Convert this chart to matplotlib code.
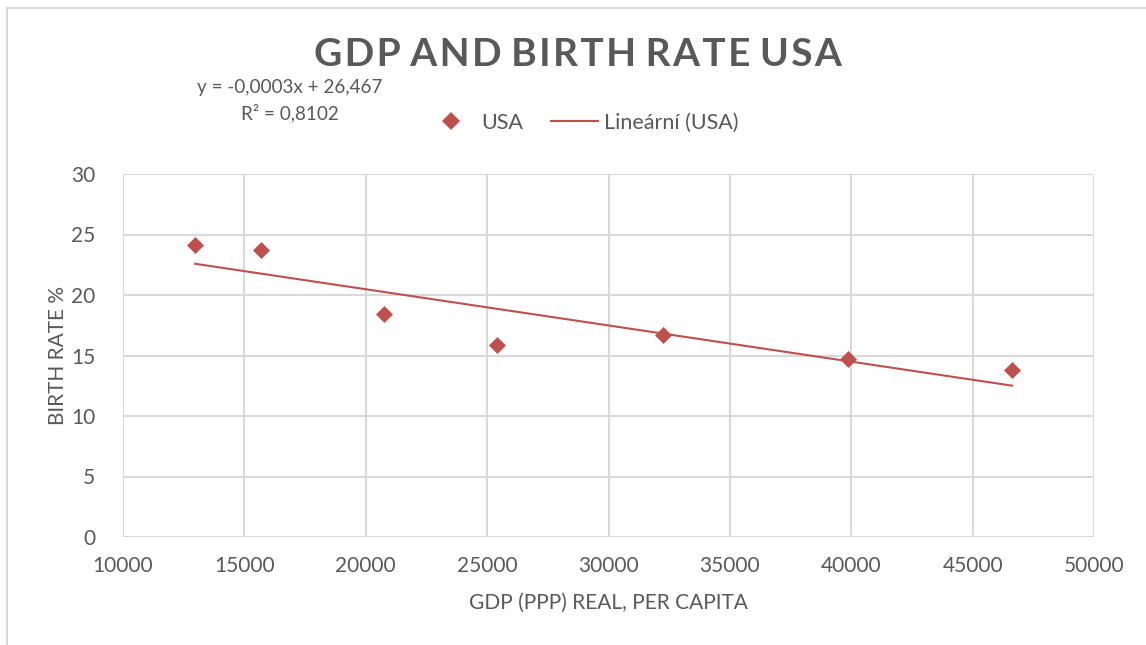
import numpy as np
import matplotlib
matplotlib.use("Agg")
import matplotlib.pyplot as plt
from matplotlib.lines import Line2D

# ── Data ──────────────────────────────────────────────────────────────────────
gdp = [12970, 15690, 20750, 25420, 32250, 39870, 46620]
birth_rate = [24.1, 23.7, 18.4, 15.9, 16.7, 14.7, 13.8]
x_ticks = [10000, 15000, 20000, 25000, 30000, 35000, 40000, 45000, 50000]
y_ticks = [0, 5, 10, 15, 20, 25, 30]

RED = "#c0504d"
TXT = "#595959"
GRID = "#d9d9d9"
FONT = "Lato"

plt.rcParams["font.family"] = [FONT, "DejaVu Sans"]

fig = plt.figure(figsize=(11.46, 6.45), dpi=100)
W, H = 1146, 645
ax = fig.add_axes([123 / W, 1 - 537 / H, (1094 - 123) / W, (537 - 174) / H])

x = np.array(gdp, dtype=float)
y = np.array(birth_rate, dtype=float)
slope, icpt = np.polyfit(x, y, 1)
xl = np.array([x.min(), x.max()])
ax.plot(xl, slope * xl + icpt, color=RED, lw=1.5, zorder=2)
ax.scatter(x, y, marker="D", s=75, color=RED, zorder=3, linewidths=0)

ax.set_xlim(10000, 50000)
ax.set_ylim(0, 30)
ax.set_xticks(x_ticks)
ax.set_yticks(y_ticks)
ax.grid(True, color=GRID, lw=1.5)
ax.set_axisbelow(True)
for s in ax.spines.values():
    s.set_visible(False)
ax.tick_params(length=0, labelsize=15, colors=TXT)
ax.tick_params(axis="y", pad=20)
ax.tick_params(axis="x", pad=14)

ax.set_xlabel("GDP (PPP) REAL, PER CAPITA", fontsize=15, color=TXT, labelpad=12)
ax.set_ylabel("BIRTH RATE %", fontsize=15, color=TXT, labelpad=2)

# title with slight letter spacing
title = "GDP AND BIRTH RATE USA"
spaced = " ".join("\u200a".join(w) for w in title.split(" "))
fig.text(578 / W, 1 - 55 / H, spaced, ha="center", va="center",
         fontsize=28, fontweight="bold", color=TXT)

# trendline equation
fig.text(290 / W, 1 - 87 / H, "y = -0,0003x + 26,467", ha="center", va="center",
         fontsize=13.6, color=TXT)
fig.text(290 / W, 1 - 113 / H, "R² = 0,8102", ha="center", va="center",
         fontsize=13.6, color=TXT)

# legend
handles = [
    Line2D([], [], marker="D", ls="none", color=RED, markersize=9, markeredgewidth=0, label="USA"),
    Line2D([], [], color=RED, lw=1.5, label="Lineární (USA)"),
]
fig.legend(handles=handles, loc="center", bbox_to_anchor=(583 / W, 1 - 123 / H), ncol=2,
           frameon=False, fontsize=15.5, labelcolor=TXT, handlelength=2.2,
           columnspacing=1.3, handletextpad=0.3)

# chart-area border (left and top only visible)
fig.add_artist(Line2D([6.5 / W, 6.5 / W], [0, 1 - 7.5 / H], color=GRID, lw=1.5,
                      transform=fig.transFigure))
fig.add_artist(Line2D([6.5 / W, 1], [1 - 7.5 / H, 1 - 7.5 / H], color=GRID, lw=1.5,
                      transform=fig.transFigure))

fig.savefig("out.png", dpi=100, facecolor="white")
